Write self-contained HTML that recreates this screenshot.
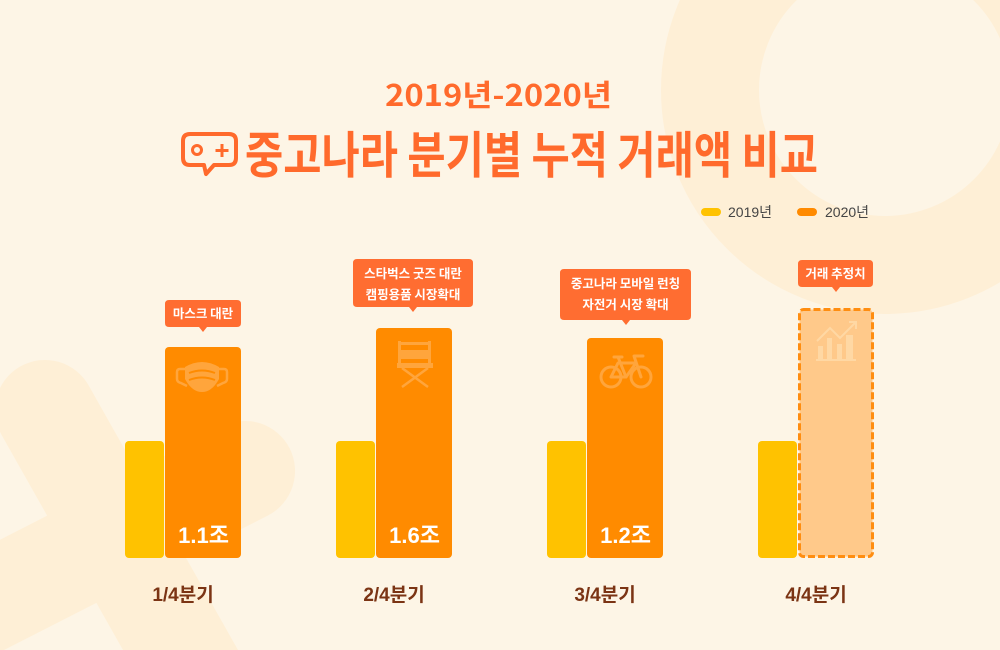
<!DOCTYPE html>
<html><head><meta charset="utf-8">
<style>
html,body{margin:0;padding:0;background:#fdf5e6;width:1000px;height:650px;overflow:hidden;}
svg{display:block;overflow:hidden;}
text{font-family:"Liberation Sans","Noto Sans CJK KR",sans-serif;}
.k{font-family:"Noto Sans CJK KR","Liberation Sans",sans-serif;}
</style></head>
<body>
<svg width="1000" height="650" viewBox="0 0 1000 650" xmlns="http://www.w3.org/2000/svg">
  <rect width="1000" height="650" fill="#fdf5e6"/>
  <!-- background ring -->
  <circle cx="885" cy="90" r="175" fill="none" stroke="#feefd6" stroke-width="98"/>
  <!-- background X shape -->
  <path d="M1.4,434.6 L123,650 L238,650 L88.6,385.4 A50,50 0 0 0 1.4,434.6 Z" fill="#feefd6"/>
  <path d="M0,539.7 L222.3,426.4 A50,50 0 0 1 267.7,515.6 L4,650 L0,650 Z" fill="#feefd6"/>

  <!-- titles -->
  <text x="385" y="106" font-size="30" font-weight="700" fill="#ff6a2c" textLength="227" lengthAdjust="spacingAndGlyphs" class="k">2019년-2020년</text>
  <!-- icon -->
  <g fill="none" stroke="#ff6a2c" stroke-width="4" stroke-linejoin="round">
    <path d="M190,134 L229,134 Q236,134 236,141 L236,158 Q236,165 229,165 L214,165 L206,174 L204,165 L190,165 Q183,165 183,158 L183,141 Q183,134 190,134 Z"/>
    <circle cx="197" cy="150" r="4.5" stroke-width="3"/>
    <path d="M222,144 L222,157 M215.5,150.5 L228.5,150.5" stroke-width="3"/>
  </g>
  <text x="245" y="173" font-size="50" font-weight="700" fill="#ff6a2c" textLength="573" lengthAdjust="spacingAndGlyphs" class="k">중고나라 분기별 누적 거래액 비교</text>

  <!-- legend -->
  <rect x="701" y="208" width="20" height="8" rx="4" fill="#ffc200"/>
  <text x="728" y="217" font-size="14" fill="#444">2019년</text>
  <rect x="797" y="208" width="20" height="8" rx="4" fill="#ff8a00"/>
  <text x="825" y="217" font-size="14" fill="#444">2020년</text>

  <!-- Q1 -->
  <rect x="125" y="441" width="39" height="117" rx="4" fill="#ffc200"/>
  <rect x="165" y="347" width="76" height="211" rx="4" fill="#ff8b00"/>
  <g fill="#ffa53c" stroke="none">
    <path d="M185,367 Q202,357 219,367 L219,379 Q212,392 202,392 Q192,392 185,379 Z"/>
  </g>
  <g fill="none" stroke="#ffa53c" stroke-width="2.5">
    <path d="M185,369 L180,369 Q177,369 177,372 L177,379 Q177,382 181,383 L187,386"/>
    <path d="M219,369 L224,369 Q227,369 227,372 L227,379 Q227,382 223,383 L217,386"/>
  </g>
  <g fill="none" stroke="#ff8b00" stroke-width="2">
    <path d="M189,373 Q202,368 215,373"/>
    <path d="M189,380 Q202,375 215,380"/>
  </g>
  <text x="229" y="543" font-size="22" font-weight="700" fill="#fff" text-anchor="end">1.1조</text>
  <path d="M169,300 L237,300 Q241,300 241,304 L241,323 Q241,327 237,327 L207,327 L203,332 L199,327 L169,327 Q165,327 165,323 L165,304 Q165,300 169,300 Z" fill="#ff6d31"/>
  <text x="203" y="318" font-size="12.5" font-weight="700" fill="#fff" text-anchor="middle" class="k">마스크 대란</text>
  <text x="183" y="601" font-size="19" font-weight="700" fill="#7b3414" text-anchor="middle">1/4분기</text>

  <!-- Q2 -->
  <rect x="336" y="441" width="39" height="117" rx="4" fill="#ffc200"/>
  <rect x="376" y="328" width="76" height="230" rx="4" fill="#ff8b00"/>
  <g fill="#ffa53c">
    <rect x="398" y="341" width="3" height="22"/>
    <rect x="428" y="341" width="3" height="22"/>
    <rect x="398" y="342" width="33" height="3"/>
    <rect x="398" y="350" width="33" height="9"/>
    <rect x="397" y="363" width="36" height="5"/>
  </g>
  <g stroke="#ffa53c" stroke-width="2.5" fill="none">
    <path d="M402,368 L428,387 M428,368 L402,387"/>
  </g>
  <text x="440" y="543" font-size="22" font-weight="700" fill="#fff" text-anchor="end">1.6조</text>
  <path d="M357,259 L469,259 Q473,259 473,263 L473,303 Q473,307 469,307 L417,307 L413,312 L409,307 L357,307 Q353,307 353,303 L353,263 Q353,259 357,259 Z" fill="#ff6d31"/>
  <text x="413" y="278" font-size="12.5" font-weight="700" fill="#fff" text-anchor="middle" class="k">스타벅스 굿즈 대란</text>
  <text x="413" y="299" font-size="12.5" font-weight="700" fill="#fff" text-anchor="middle" class="k">캠핑용품 시장확대</text>
  <text x="394" y="601" font-size="19" font-weight="700" fill="#7b3414" text-anchor="middle">2/4분기</text>

  <!-- Q3 -->
  <rect x="547" y="441" width="39" height="117" rx="4" fill="#ffc200"/>
  <rect x="587" y="338" width="76" height="220" rx="4" fill="#ff8b00"/>
  <g fill="none" stroke="#ffa53c" stroke-width="3" stroke-linecap="round" stroke-linejoin="round">
    <circle cx="611" cy="377" r="10"/>
    <circle cx="641" cy="377" r="10"/>
    <path d="M611,377 L626,377 L636,363 L618,363 L611,377"/>
    <path d="M641,377 L634,356 L643,356"/>
    <path d="M614,357 L622,357 M618,357 L626,377"/>
  </g>
  <text x="651" y="543" font-size="22" font-weight="700" fill="#fff" text-anchor="end">1.2조</text>
  <path d="M564,269 L687,269 Q691,269 691,273 L691,316 Q691,320 687,320 L630,320 L626,325 L622,320 L564,320 Q560,320 560,316 L560,273 Q560,269 564,269 Z" fill="#ff6d31"/>
  <text x="625.5" y="288" font-size="12.5" font-weight="700" fill="#fff" text-anchor="middle" class="k">중고나라 모바일 런칭</text>
  <text x="625.5" y="309" font-size="12.5" font-weight="700" fill="#fff" text-anchor="middle" class="k">자전거 시장 확대</text>
  <text x="605" y="601" font-size="19" font-weight="700" fill="#7b3414" text-anchor="middle">3/4분기</text>

  <!-- Q4 -->
  <rect x="758" y="441" width="39" height="117" rx="4" fill="#ffc200"/>
  <rect x="799.5" y="309.5" width="73" height="247" rx="4" fill="#ffc98a" stroke="#ff8d10" stroke-width="3" stroke-dasharray="7 3"/>
  <g fill="#ffd8a4">
    <rect x="818" y="346" width="5" height="14"/>
    <rect x="827" y="338" width="5" height="22"/>
    <rect x="837" y="344" width="5" height="16"/>
    <rect x="846" y="335" width="7" height="25"/>
    <rect x="816" y="359" width="40" height="2"/>
  </g>
  <g fill="none" stroke="#ffd8a4" stroke-width="2">
    <path d="M817,341 L830,328 L840,338 L855,323 M849,322 L856,322 L856,329"/>
  </g>
  <path d="M802,260 L869,260 Q873,260 873,264 L873,283 Q873,287 869,287 L840,287 L836,292 L832,287 L802,287 Q798,287 798,283 L798,264 Q798,260 802,260 Z" fill="#ff6d31"/>
  <text x="835.5" y="278" font-size="12.5" font-weight="700" fill="#fff" text-anchor="middle" class="k">거래 추정치</text>
  <text x="816" y="601" font-size="19" font-weight="700" fill="#7b3414" text-anchor="middle">4/4분기</text>
</svg>
</body></html>
